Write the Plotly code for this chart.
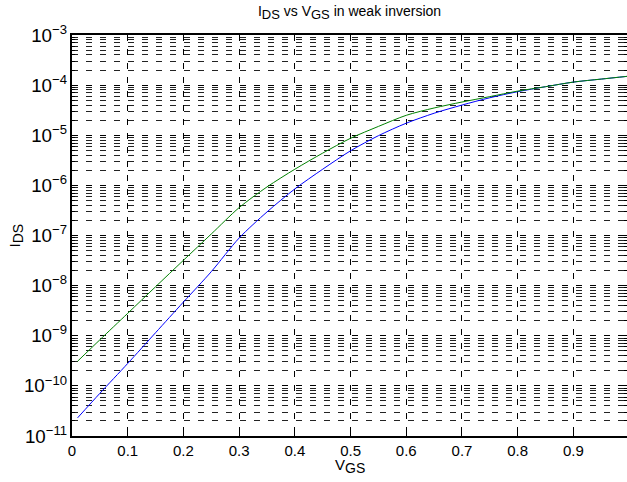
import plotly.graph_objects as go

vgs = [0.01, 0.05, 0.10, 0.15, 0.20, 0.25, 0.30, 0.35, 0.40, 0.45, 0.50,
       0.55, 0.60, 0.65, 0.70, 0.75, 0.80, 0.85, 0.90, 0.95, 1.00]

ids_blue = [2.3e-11, 7.1e-11, 2.8e-10, 1.15e-9, 4.7e-9, 1.9e-8, 8.9e-8, 2.95e-7,
            8.5e-7, 2.1e-6, 4.9e-6, 9.8e-6, 1.74e-5, 2.75e-5, 4.0e-5, 5.6e-5,
            7.4e-5, 9.3e-5, 1.15e-4, 1.32e-4, 1.51e-4]

ids_green = [3.1e-10, 8.3e-10, 2.8e-9, 9.5e-9, 3.2e-8, 1.07e-7, 3.6e-7, 9.3e-7,
             2.1e-6, 4.4e-6, 8.7e-6, 1.5e-5, 2.5e-5, 3.5e-5, 4.6e-5, 5.9e-5,
             7.6e-5, 9.3e-5, 1.15e-4, 1.32e-4, 1.51e-4]

x_ticks = [0, 0.1, 0.2, 0.3, 0.4, 0.5, 0.6, 0.7, 0.8, 0.9]
x_ticklabels = ["0", "0.1", "0.2", "0.3", "0.4", "0.5", "0.6", "0.7", "0.8", "0.9"]

FONT = "Liberation Sans, Arial, sans-serif"


def sub(t, size):
    return '<sub><span style="font-size:%dpx">%s</span></sub>' % (size, t)


fig = go.Figure()
fig.add_trace(go.Scatter(x=vgs, y=ids_blue, mode="lines",
                         line=dict(color="#0000ff", width=1, shape="spline", smoothing=0.8),
                         showlegend=False, hoverinfo="skip"))
fig.add_trace(go.Scatter(x=vgs, y=ids_green, mode="lines",
                         line=dict(color="#008000", width=1, shape="spline", smoothing=0.8),
                         showlegend=False, hoverinfo="skip"))

fig.update_layout(
    width=627, height=482,
    margin=dict(l=72, r=0, t=35, b=46),
    paper_bgcolor="white", plot_bgcolor="white",
    font=dict(family=FONT, size=14, color="black"),
    title=dict(text="I" + sub("DS", 13) + " vs V" + sub("GS", 13) + " in weak inversion",
               x=0.5, xref="paper", xanchor="center",
               y=1 - 11 / 482, yanchor="middle",
               font=dict(family=FONT, size=14, color="black")),
    xaxis=dict(
        range=[0, 0.9962], tickvals=x_ticks, ticktext=x_ticklabels,
        showgrid=True, gridcolor="black", griddash="6px,8px", gridwidth=1,
        showline=True, linecolor="black", linewidth=2, mirror="ticks",
        ticks="inside", ticklen=5, tickcolor="black",
        zeroline=False, automargin=False,
        tickfont=dict(size=15),
    ),
    yaxis=dict(
        type="log", range=[-11, -3], dtick=1, exponentformat="power",
        showgrid=True, gridcolor="black", griddash="6px,8px", gridwidth=1,
        showline=True, linecolor="black", linewidth=2, mirror="ticks",
        ticks="inside", ticklen=5, tickcolor="black",
        minor=dict(dtick="D1", showgrid=True, gridcolor="#222", griddash="6px,8px",
                   gridwidth=1, ticks="inside", ticklen=3, tickcolor="black"),
        zeroline=False, automargin=False,
        tickfont=dict(size=15),
    ),
    annotations=[
        dict(text="V" + sub("GS", 14), x=0.5, xref="paper", y=0, yref="paper",
             yanchor="top", yshift=-18, showarrow=False, font=dict(size=15)),
        dict(text="I" + sub("DS", 14), x=0, xref="paper", xanchor="center", xshift=-57,
             y=0.5, yref="paper", textangle=-90, showarrow=False, font=dict(size=15)),
    ],
)

fig.write_html("out.html", config={"displayModeBar": False},
               post_script="document.body.style.margin='0';document.body.style.padding='0';")
